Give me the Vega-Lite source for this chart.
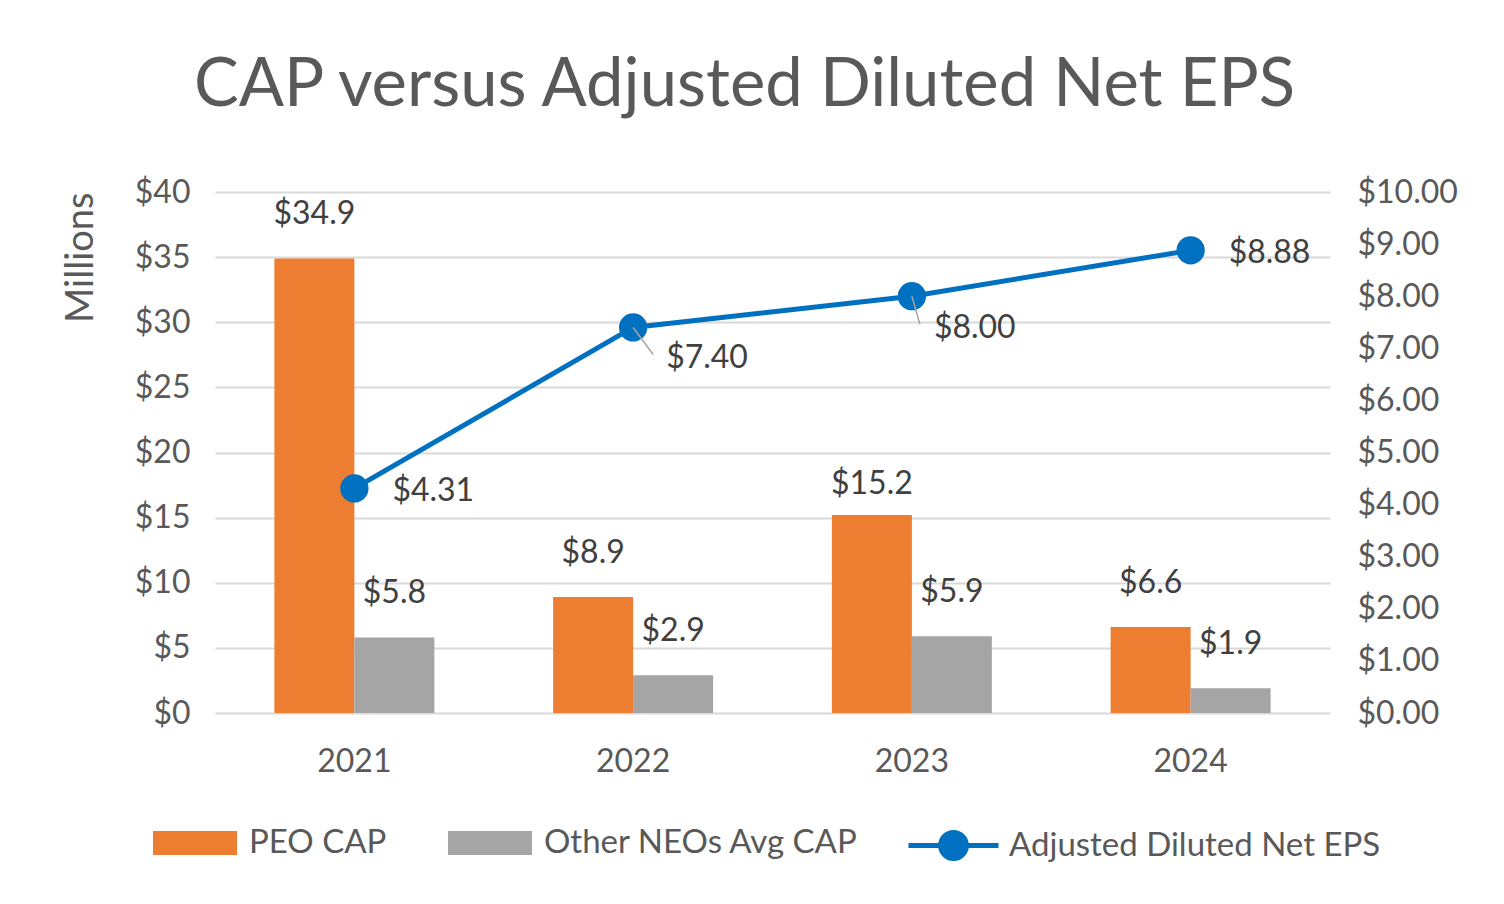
{
  "$schema": "https://vega.github.io/schema/vega-lite/v6.json",
  "width": 1115,
  "height": 521,
  "autosize": {"type": "none"},
  "padding": {"left": 215, "top": 192, "right": 174, "bottom": 191},
  "background": "white",
  "title": {
    "text": "CAP versus Adjusted Diluted Net EPS",
    "font": "Lato",
    "fontSize": 67,
    "fontWeight": "normal",
    "color": "#595959",
    "anchor": "middle",
    "offset": 56,
    "dx": -28
  },
  "datasets": {
    "cap": [
      {"year": "2021", "series": "PEO CAP", "value": 34.9},
      {"year": "2021", "series": "Other NEOs Avg CAP", "value": 5.8},
      {"year": "2022", "series": "PEO CAP", "value": 8.9},
      {"year": "2022", "series": "Other NEOs Avg CAP", "value": 2.9},
      {"year": "2023", "series": "PEO CAP", "value": 15.2},
      {"year": "2023", "series": "Other NEOs Avg CAP", "value": 5.9},
      {"year": "2024", "series": "PEO CAP", "value": 6.6},
      {"year": "2024", "series": "Other NEOs Avg CAP", "value": 1.9}
    ],
    "eps": [
      {"year": "2021", "series": "Adjusted Diluted Net EPS", "eps": 4.31},
      {"year": "2022", "series": "Adjusted Diluted Net EPS", "eps": 7.40},
      {"year": "2023", "series": "Adjusted Diluted Net EPS", "eps": 8.00},
      {"year": "2024", "series": "Adjusted Diluted Net EPS", "eps": 8.88}
    ]
  },
  "encoding": {
    "x": {
      "field": "year",
      "type": "nominal",
      "scale": {"paddingInner": 0.426, "paddingOuter": 0.213},
      "axis": {
        "title": null,
        "labelAngle": 0,
        "labelFont": "Lato",
        "labelFontSize": 32,
        "labelColor": "#595959",
        "labelPadding": 33,
        "domain": false,
        "ticks": false
      }
    }
  },
  "layer": [
    {
      "data": {"name": "cap"},
      "encoding": {
        "y": {
          "field": "value",
          "type": "quantitative",
          "scale": {"domain": [0, 40]},
          "axis": {
            "orient": "left",
            "values": [0, 5, 10, 15, 20, 25, 30, 35, 40],
            "labelExpr": "'$' + datum.value",
            "labelFont": "Lato",
            "labelFontSize": 32,
            "labelColor": "#595959",
            "labelPadding": 25,
            "domain": false,
            "ticks": false,
            "grid": true,
            "gridColor": "#D9D9D9",
            "gridWidth": 2,
            "title": "Millions",
            "titleFont": "Lato",
            "titleFontSize": 38,
            "titleFontWeight": "normal",
            "titleColor": "#595959",
            "titleAnchor": "end",
            "titlePadding": 34
          }
        },
        "xOffset": {
          "field": "series",
          "type": "nominal",
          "scale": {"domain": ["PEO CAP", "Other NEOs Avg CAP"], "paddingInner": 0, "paddingOuter": 0}
        }
      },
      "layer": [
        {
          "mark": {"type": "bar"},
          "encoding": {
            "color": {
              "field": "series",
              "type": "nominal",
              "scale": {"domain": ["PEO CAP", "Other NEOs Avg CAP"], "range": ["#ED7D31", "#A5A5A5"]},
              "legend": {
                "orient": "bottom",
                "direction": "horizontal",
                "title": null,
                "symbolType": "M-1.4,-0.4H1.4V0.4H-1.4Z",
                "symbolSize": 3600,
                "symbolStrokeWidth": 0,
                "labelFont": "Lato",
                "labelFontSize": 33,
                "labelColor": "#595959",
                "labelOffset": 24,
                "labelLimit": 600,
                "columnPadding": 61,
                "offset": 36
              }
            }
          }
        },
        {
          "transform": [{"filter": "!(datum.year == '2023' && datum.series == 'PEO CAP')"}],
          "mark": {"type": "text", "font": "Lato", "fontSize": 32, "color": "#404040", "dy": -44, "baseline": "middle", "align": "center"},
          "encoding": {
            "text": {"field": "value", "type": "quantitative", "format": "$.1f"}
          }
        },
        {
          "transform": [{"filter": "datum.year == '2023' && datum.series == 'PEO CAP'"}],
          "mark": {"type": "text", "font": "Lato", "fontSize": 32, "color": "#404040", "dy": -31, "baseline": "middle", "align": "center"},
          "encoding": {
            "text": {"field": "value", "type": "quantitative", "format": "$.1f"}
          }
        }
      ]
    },
    {
      "data": {"name": "eps"},
      "encoding": {
        "y": {
          "field": "eps",
          "type": "quantitative",
          "scale": {"domain": [0, 10]},
          "axis": {
            "orient": "right",
            "values": [0, 1, 2, 3, 4, 5, 6, 7, 8, 9, 10],
            "format": "$.2f",
            "labelFont": "Lato",
            "labelFontSize": 32,
            "labelColor": "#595959",
            "labelPadding": 27,
            "domain": false,
            "ticks": false,
            "grid": false,
            "title": null
          }
        }
      },
      "layer": [
        {
          "mark": {"type": "line", "strokeWidth": 5},
          "encoding": {
            "stroke": {
              "field": "series",
              "type": "nominal",
              "scale": {"domain": ["Adjusted Diluted Net EPS"], "range": ["#0070C0"]},
              "legend": {
                "orient": "bottom",
                "direction": "horizontal",
                "title": null,
                "symbolType": "M-1.5,0H1.5M-0.43,0A0.43,0.43,0,1,1,0.43,0A0.43,0.43,0,1,1,-0.43,0Z",
                "symbolSize": 3600,
                "labelFont": "Lato",
                "labelFontSize": 33,
                "labelColor": "#595959",
                "labelOffset": 23,
                "labelLimit": 600,
                "offset": 33,
                "encode": {
                  "symbols": {
                    "update": {
                      "fill": {"value": "#0070C0"},
                      "stroke": {"value": "#0070C0"},
                      "strokeWidth": {"value": 5}
                    }
                  }
                }
              }
            }
          }
        },
        {
          "mark": {"type": "point", "filled": true, "size": 800, "color": "#0070C0", "opacity": 1}
        },
        {
          "transform": [{"filter": "datum.year == '2022'"}],
          "mark": {"type": "rule", "color": "#A5A5A5", "strokeWidth": 1.5, "x2Offset": 20, "y2Offset": 27},
          "encoding": {
            "x2": {"field": "year"},
            "y2": {"field": "eps"}
          }
        },
        {
          "transform": [{"filter": "datum.year == '2023'"}],
          "mark": {"type": "rule", "color": "#A5A5A5", "strokeWidth": 1.5, "x2Offset": 8, "y2Offset": 28},
          "encoding": {
            "x2": {"field": "year"},
            "y2": {"field": "eps"}
          }
        },
        {
          "transform": [{"filter": "datum.year == '2021' || datum.year == '2024'"}],
          "mark": {"type": "text", "font": "Lato", "fontSize": 32, "color": "#404040", "align": "left", "baseline": "middle", "dx": 38, "dy": 3},
          "encoding": {"text": {"field": "eps", "type": "quantitative", "format": "$.2f"}}
        },
        {
          "transform": [{"filter": "datum.year == '2022'"}],
          "mark": {"type": "text", "font": "Lato", "fontSize": 32, "color": "#404040", "align": "left", "baseline": "middle", "dx": 33, "dy": 31},
          "encoding": {"text": {"field": "eps", "type": "quantitative", "format": "$.2f"}}
        },
        {
          "transform": [{"filter": "datum.year == '2023'"}],
          "mark": {"type": "text", "font": "Lato", "fontSize": 32, "color": "#404040", "align": "left", "baseline": "middle", "dx": 22, "dy": 32},
          "encoding": {"text": {"field": "eps", "type": "quantitative", "format": "$.2f"}}
        }
      ]
    }
  ],
  "resolve": {"scale": {"y": "independent"}},
  "config": {
    "view": {"stroke": null},
    "legend": {"layout": {"bottom": {"anchor": "middle", "direction": "horizontal", "margin": 62}}}
  }
}
